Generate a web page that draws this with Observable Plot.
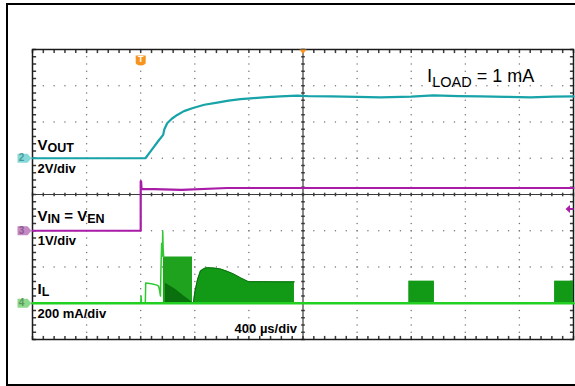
<!DOCTYPE html>
<html><head><meta charset="utf-8">
<script src="https://cdn.jsdelivr.net/npm/d3@7"></script>
<script src="https://cdn.jsdelivr.net/npm/@observablehq/plot@0.6"></script>
<style>
html,body{margin:0;padding:0;background:#fff;overflow:hidden;}
#wrap{position:relative;width:575px;height:386px;overflow:hidden;}
#frame{position:absolute;left:6px;top:3px;width:640px;height:383px;border:2px solid #000;box-sizing:border-box;}
#chart{position:absolute;left:0;top:0;}
</style></head>
<body><div id="wrap"><div id="frame"></div><div id="chart"></div></div>
<script>
// ---- scope settings ----
const timePerDiv = 400;            // µs/div
const xDomain = [-800, 3200];      // µs, trigger at 0
const yDomain = [-4, 4];           // divisions
const ch2 = {label: "2", scale: 2, offset: 1};     // VOUT, V/div
const ch3 = {label: "3", scale: 1, offset: -1};    // VIN = VEN, V/div
const ch4 = {label: "4", scale: 200, offset: -3};  // IL, mA/div
const ch3TrigLevel = 0.6; // V

// ---- VOUT (V) ----
const voutT = [-800, 35, 80, 130, 166, 175, 196, 230, 270, 320, 381, 470, 566, 650, 738, 835, 935, 1033, 1157, 1250, 1403, 1600, 1773, 2000, 2165, 2350, 2512, 2700, 2882, 3050, 3200];
const voutV = [0, 0, 0.45, 0.95, 1.29, 1.6, 1.93, 2.18, 2.39, 2.6, 2.76, 2.95, 3.07, 3.18, 3.26, 3.32, 3.37, 3.41, 3.45, 3.42, 3.41, 3.39, 3.36, 3.40, 3.47, 3.43, 3.41, 3.39, 3.36, 3.40, 3.41];

// ---- VIN = VEN (V) ----
const vinT = [-800, 0, 0, 3, 6, 100, 300, 640, 1000, 2000, 3200];
const vinV = [0, 0, 1.36, 1.36, 1.15, 1.15, 1.13, 1.18, 1.18, 1.18, 1.18];

// ---- IL (mA) ----
const ilBaseT = [-800, 3200];
const ilBaseI = [0, 0];
const ilStartT = [0, 3, 6, 34, 37, 80, 120, 132, 140, 146, 150, 155, 160, 163, 166, 170];
const ilStartI = [0, 40, 0, 0, 112, 108, 100, 95, 70, 40, 200, 330, 260, 399, 300, 255];
const burstAT = [168, 383];
const burstATop = [255, 255];
const burstAInnerT = [183, 257, 319, 381];
const burstAInnerTop = [110, 77, 40, 5];
const burstBT = [390, 400, 420, 442, 470, 492, 540, 590, 640, 686, 740, 797, 900, 1000, 1137];
const burstBTop = [3, 60, 130, 178, 192, 196, 194, 189, 176, 162, 140, 119, 119, 118, 118];
const burstCT = [1982, 2172];
const burstCTop = [122, 122];
const burstDT = [3060, 3200];
const burstDTop = [122, 122];

// ---- helpers ----
const toDiv = (ch, v) => v / ch.scale + ch.offset;
const series = (ts, vs, ch) => ts.map((t, i) => ({t, d: toDiv(ch, vs[i])}));
const band = (ts, tops, ch) => ts.map((t, i) => ({t, lo: toDiv(ch, 0), hi: toDiv(ch, tops[i])}));

const minorX = d3.range(0, 51).map(i => xDomain[0] + i * timePerDiv / 5);
const minorY = d3.range(-20, 21).map(i => i / 5);
const majorX = d3.range(0, 11).map(i => xDomain[0] + i * timePerDiv);
const majorY = d3.range(-4, 5);
const centerX = (xDomain[0] + xDomain[1]) / 2;

const gridDots = [];
majorX.filter(x => x !== xDomain[0] && x !== xDomain[1] && x !== centerX)
  .forEach(x => minorY.forEach(y => gridDots.push({x, y})));
majorY.filter(y => y !== -4 && y !== 4 && y !== 0)
  .forEach(y => minorX.forEach(x => gridDots.push({x, y})));

// symbols
const hTick = {draw(c) { c.moveTo(-1.8, 0); c.lineTo(1.8, 0); }};
const vTick = {draw(c) { c.moveTo(0, -1.8); c.lineTo(0, 1.8); }};
const chTag = {draw(c) { c.moveTo(-7, -4.5); c.lineTo(3, -4.5); c.lineTo(7, 0); c.lineTo(3, 4.5); c.lineTo(-7, 4.5); c.closePath(); }};
const shield = {draw(c) { c.moveTo(-5, -4.5); c.lineTo(5, -4.5); c.lineTo(5, 2.5); c.quadraticCurveTo(5, 5, 0, 5.5); c.quadraticCurveTo(-5, 5, -5, 2.5); c.closePath(); }};
const downTri = {draw(c) { c.moveTo(-3.5, 0); c.lineTo(3.5, 0); c.lineTo(0, 4.5); c.closePath(); }};
const leftArrow = {draw(c) { c.moveTo(-8, 0); c.lineTo(-3.5, -4); c.lineTo(-3.5, -1); c.lineTo(0, -1); c.lineTo(0, 1); c.lineTo(-3.5, 1); c.lineTo(-3.5, 4); c.closePath(); }};

const tags = [
  {ch: ch2, fill: "#86d9d9", ink: "#4b9a9a"},
  {ch: ch3, fill: "#c58ac5", ink: "#8a5a8a"},
  {ch: ch4, fill: "#8ed88e", ink: "#5a985a"}
];

const greenFill = "#129a16";
const greenDark = "#0a6f0d";

const svg = Plot.plot({
  width: 575, height: 386,
  marginLeft: 32, marginRight: 2, marginTop: 49, marginBottom: 47,
  x: {domain: xDomain, axis: null},
  y: {domain: yDomain, axis: null},
  style: {background: "transparent", overflow: "visible"},
  marks: [
    Plot.dot(gridDots, {x: "x", y: "y", r: 0.75, fill: "#777", stroke: "none"}),
    Plot.ruleX([centerX], {stroke: "#3a3a3a", strokeWidth: 1.2}),
    Plot.ruleY([0], {stroke: "#3a3a3a", strokeWidth: 1.2}),
    Plot.dot(minorY, {x: centerX, y: d => d, symbol: hTick, r: 2, stroke: "#3a3a3a", fill: "none"}),
    Plot.dot(minorX, {x: d => d, y: 0, symbol: vTick, r: 2, stroke: "#3a3a3a", fill: "none"}),
    Plot.dot(minorX, {x: d => d, y: yDomain[1], dy: 1.8, symbol: vTick, r: 2, stroke: "#3a3a3a", fill: "none"}),
    Plot.dot(minorX, {x: d => d, y: yDomain[0], dy: -1.8, symbol: vTick, r: 2, stroke: "#3a3a3a", fill: "none"}),
    Plot.dot(minorY, {x: xDomain[0], y: d => d, dx: 1.8, symbol: hTick, r: 2, stroke: "#3a3a3a", fill: "none"}),
    Plot.dot(minorY, {x: xDomain[1], y: d => d, dx: -1.8, symbol: hTick, r: 2, stroke: "#3a3a3a", fill: "none"}),
    Plot.frame({stroke: "#1a1a1a", strokeWidth: 1.5}),

    // IL bursts
    Plot.areaY(band(burstAT, burstATop, ch4), {x: "t", y1: "lo", y2: "hi", fill: "#1fa31f"}),
    Plot.areaY(band(burstAInnerT, burstAInnerTop, ch4), {x: "t", y1: "lo", y2: "hi", fill: greenDark}),
    Plot.areaY(band(burstBT, burstBTop, ch4), {x: "t", y1: "lo", y2: "hi", fill: greenFill}),
    Plot.areaY(band(burstCT, burstCTop, ch4), {x: "t", y1: "lo", y2: "hi", fill: greenFill}),
    Plot.areaY(band(burstDT, burstDTop, ch4), {x: "t", y1: "lo", y2: "hi", fill: greenFill}),
    Plot.lineY(band(burstBT, burstBTop, ch4), {x: "t", y: "hi", stroke: greenDark, strokeWidth: 1}),
    Plot.lineY(series(ilStartT, ilStartI, ch4), {x: "t", y: "d", stroke: "#2fc82f", strokeWidth: 1.5}),
    Plot.lineY(series(ilBaseT, ilBaseI, ch4), {x: "t", y: "d", stroke: "#22d022", strokeWidth: 2.5}),

    // VIN
    Plot.lineY(series(vinT, vinV, ch3), {x: "t", y: "d", stroke: "#a81ca8", strokeWidth: 2.2}),
    // VOUT
    Plot.lineY(series(voutT, voutV, ch2), {x: "t", y: "d", stroke: "#17a3a8", strokeWidth: 2.2}),

    // channel tags
    Plot.dot(tags, {x: xDomain[0], y: d => d.ch.offset, dx: -8, symbol: chTag, r: 5, fill: d => d.fill, stroke: "none"}),
    Plot.text(tags, {x: xDomain[0], y: d => d.ch.offset, dx: -11, text: d => d.ch.label, fill: d => d.ink, fontSize: 10, fontWeight: "bold", fontFamily: "Liberation Sans, Arial, sans-serif"}),
    // trigger markers
    Plot.dot([0], {x: d => d, y: yDomain[1], dy: 10.5, symbol: shield, r: 5, fill: "#f7941d", stroke: "none"}),
    Plot.text([0], {x: d => d, y: yDomain[1], dy: 10, text: () => "T", fill: "#fff", fontSize: 9, fontWeight: "bold", fontFamily: "Liberation Sans, Arial, sans-serif"}),
    Plot.dot([centerX], {x: d => d, y: yDomain[1], symbol: downTri, r: 4, fill: "#f7941d", stroke: "none"}),
    Plot.dot([toDiv(ch3, ch3TrigLevel)], {x: xDomain[1], y: d => d, symbol: leftArrow, r: 4, fill: "#a81ca8", stroke: "none"})
  ]
});

// ---- annotations ----
const font = "Liberation Sans, Arial, sans-serif";
const g = d3.select(svg).append("g").attr("font-family", font).attr("fill", "#000").attr("text-anchor", "start");
function label(x, y, parts, opts = {}) {
  const t = g.append("text").attr("x", x).attr("y", y).attr("font-weight", opts.weight || "bold")
    .attr("text-anchor", opts.anchor || "start");
  parts.forEach(p => t.append("tspan").attr("font-size", p[1]).attr("dy", p[2] || 0).text(p[0]));
}
label(37.5, 149.5, [["V", 15], ["OUT", 12.5, 2.5]]);
label(37.5, 173.3, [["2V/div", 13]]);
label(37.5, 220.7, [["V", 15], ["IN", 12.5, 2.5], ["\u00a0=\u00a0", 15, -2.5], ["V", 15], ["EN", 12.5, 2.5]]);
label(37.7, 244.5, [["1V/div", 13]]);
label(37.5, 293.5, [["I", 15], ["L", 12.5, 2.5]]);
label(37.5, 318.3, [["200 mA/div", 13]]);
label(297, 332.8, [["400 \u00b5s/div", 13]], {anchor: "end"});
label(427, 81.7, [["I", 18.5], ["LOAD", 14.5, 5.6], ["\u00a0=\u00a01\u00a0mA", 18, -5.6]], {weight: "normal"});

document.getElementById("chart").appendChild(svg);
</script>
</body></html>
